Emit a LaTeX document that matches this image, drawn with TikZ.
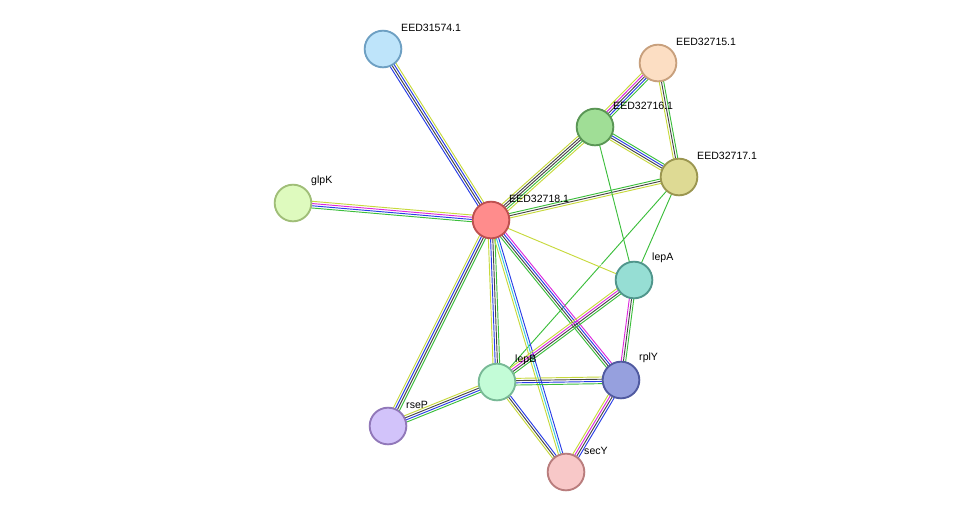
\documentclass[tikz,border=0pt]{standalone}
\usepackage{fontspec}
\setmainfont{Liberation Sans}
\usetikzlibrary{calc}
\definecolor{elime}{RGB}{199,217,60}
\definecolor{egreen}{RGB}{60,190,60}
\definecolor{eblue}{RGB}{40,60,230}
\definecolor{ecyan}{RGB}{60,200,220}
\definecolor{emag}{RGB}{220,40,220}
\definecolor{eblack}{RGB}{70,70,70}

\tikzset{
  prot/.style={circle, minimum size=1.1cm, inner sep=0pt, line width=1.6pt},
  plabel/.style={anchor=south west, inner sep=0pt, font=\fontsize{9}{10}\selectfont},
}
% n parallel coloured lines between two nodes
\newcommand{\strlink}[4]{%
  \foreach \c [count=\i] in {#4} {
    \pgfmathsetmacro{\off}{(\i-(#3+1)/2)*1.9}
    \draw[\c, line width=0.8pt] ($(#1)!\off pt!90:(#2)$) -- ($(#2)!\off pt!-90:(#1)$);
  }}

\begin{document}
\begin{tikzpicture}[x=0.03cm, y=-0.03cm]
        \useasboundingbox (0,0) rectangle (976,518);

        % Proteins
        \coordinate (p31574) at (383,49);
        \coordinate (p32715) at (658,63);
        \coordinate (p32716) at (595,127);
        \coordinate (p32717) at (679,177);
        \coordinate (pglpK) at (293,203);
        \coordinate (p32718) at (491,220);
        \coordinate (plepA) at (634,280);
        \coordinate (plepB) at (497,382);
        \coordinate (prplY) at (621,380);
        \coordinate (prseP) at (388,426);
        \coordinate (psecY) at (566,472);

        % Links
        \strlink{p32718}{p31574}{4}{elime,eblue,eblack,eblue}
        \strlink{p32718}{pglpK}{4}{elime,emag,eblue,egreen}
        \strlink{p32718}{p32716}{5}{elime,egreen,eblack,eblack,elime}
        \strlink{p32718}{p32717}{3}{elime,eblack,egreen}
        \strlink{p32715}{p32716}{5}{elime,emag,eblack,eblue,egreen}
        \strlink{p32715}{p32717}{3}{elime,eblack,egreen}
        \strlink{p32716}{p32717}{4}{elime,eblack,eblue,egreen}
        \strlink{p32716}{plepA}{1}{egreen}
        \strlink{p32717}{plepA}{1}{egreen}
        \strlink{p32717}{plepB}{1}{egreen}
        \strlink{p32718}{plepA}{2}{elime,white}
        \strlink{p32718}{prplY}{4}{egreen,eblack,eblue,emag}
        \strlink{p32718}{plepB}{4}{elime,eblue,eblack,egreen}
        \strlink{p32718}{psecY}{3}{elime,ecyan,eblue}
        \strlink{p32718}{prseP}{4}{elime,eblue,eblack,egreen}
        \strlink{plepA}{plepB}{4}{elime,emag,eblack,egreen}
        \strlink{plepA}{prplY}{3}{emag,eblack,egreen}
        \strlink{plepB}{prplY}{4}{egreen,eblue,eblack,elime}
        \strlink{plepB}{prseP}{4}{elime,eblack,eblue,egreen}
        \strlink{plepB}{psecY}{3}{elime,eblack,eblue}
        \strlink{prplY}{psecY}{4}{elime,emag,eblack,eblue}

        % Nodes
        \node[prot, fill={rgb,255:red,190;green,228;blue,250}, draw={rgb,255:red,110;green,160;blue,195}] (n31574) at (p31574) {};
        \node[prot, fill={rgb,255:red,252;green,222;blue,195}, draw={rgb,255:red,200;green,160;blue,125}] (n32715) at (p32715) {};
        \node[prot, fill={rgb,255:red,160;green,222;blue,150}, draw={rgb,255:red,90;green,150;blue,85}] (n32716) at (p32716) {};
        \node[prot, fill={rgb,255:red,222;green,218;blue,148}, draw={rgb,255:red,155;green,150;blue,80}] (n32717) at (p32717) {};
        \node[prot, fill={rgb,255:red,222;green,250;blue,190}, draw={rgb,255:red,160;green,190;blue,120}] (nglpK) at (pglpK) {};
        \node[prot, fill={rgb,255:red,255;green,140;blue,140}, draw={rgb,255:red,190;green,80;blue,80}] (n32718) at (p32718) {};
        \node[prot, fill={rgb,255:red,150;green,222;blue,212}, draw={rgb,255:red,80;green,150;blue,140}] (nlepA) at (plepA) {};
        \node[prot, fill={rgb,255:red,195;green,252;blue,215}, draw={rgb,255:red,120;green,185;blue,150}] (nlepB) at (plepB) {};
        \node[prot, fill={rgb,255:red,150;green,160;blue,222}, draw={rgb,255:red,80;green,90;blue,160}] (nrplY) at (prplY) {};
        \node[prot, fill={rgb,255:red,210;green,195;blue,250}, draw={rgb,255:red,145;green,120;blue,185}] (nrseP) at (prseP) {};
        \node[prot, fill={rgb,255:red,248;green,200;blue,200}, draw={rgb,255:red,185;green,125;blue,125}] (nsecY) at (psecY) {};

        % Labels
        \node[plabel] at ($(p31574)+(18,-17)$) {EED31574.1};
        \node[plabel] at ($(p32715)+(18,-17)$) {EED32715.1};
        \node[plabel] at ($(p32716)+(18,-17)$) {EED32716.1};
        \node[plabel] at ($(p32717)+(18,-17)$) {EED32717.1};
        \node[plabel] at ($(pglpK)+(18,-17)$) {glpK};
        \node[plabel] at ($(p32718)+(18,-17)$) {EED32718.1};
        \node[plabel] at ($(plepA)+(18,-17)$) {lepA};
        \node[plabel] at ($(plepB)+(18,-17)$) {lepB};
        \node[plabel] at ($(prplY)+(18,-17)$) {rplY};
        \node[plabel] at ($(prseP)+(18,-17)$) {rseP};
        \node[plabel] at ($(psecY)+(18,-17)$) {secY};
\end{tikzpicture}
\end{document}
